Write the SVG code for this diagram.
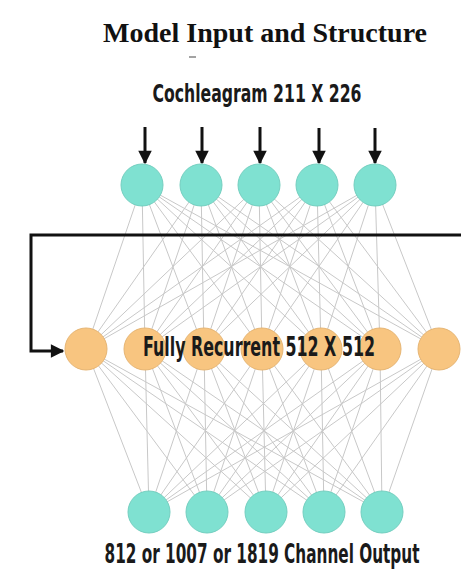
<svg xmlns="http://www.w3.org/2000/svg" width="461" height="573" viewBox="0 0 461 573">
  <style>
    .title { font-family: "Liberation Serif", "Times New Roman", serif; font-weight: bold; font-size: 27px; fill: #111; }
    .label { font-family: "DejaVu Sans Condensed", "DejaVu Sans", "Liberation Sans", sans-serif; font-stretch: condensed; font-weight: bold; font-size: 24px; fill: #1a1a1a; }
    .big { font-size: 26px; }
    .edge { stroke: #c8c8c8; stroke-width: 1; }
    .io { fill: #7fe1d1; stroke: #74cfc0; stroke-width: 1; }
    .hid { fill: #f8c580; stroke: #e6b573; stroke-width: 1; }
    .arrow { stroke: #111; stroke-width: 3; fill: none; }
  </style>
  <defs>
    <marker id="head" viewBox="0 0 10 10" refX="9" refY="5" markerWidth="5" markerHeight="4.5" orient="auto" markerUnits="strokeWidth">
      <path d="M0,0 L10,5 L0,10 Z" fill="#111"/>
    </marker>
  </defs>
  <rect width="461" height="573" fill="#fff"/>

  <text class="title" x="265" y="42" text-anchor="middle" textLength="324" lengthAdjust="spacingAndGlyphs">Model Input and Structure</text>
  <rect x="189" y="56" width="7" height="2" fill="#666" opacity="0.6"/>

  <text id="input-label" class="label" x="257" y="102" text-anchor="middle" textLength="209" lengthAdjust="spacingAndGlyphs">Cochleagram  211 X 226</text>

  <!-- weighted connections between layers -->
  <g id="connectors">
    <g class="edge">
      <!-- input -> hidden -->
      <path d="M142,185 L86,349 M142,185 L145,349 M142,185 L204,349 M142,185 L262,349 M142,185 L321,349 M142,185 L380,349 M142,185 L439,349"/>
      <path d="M201,185 L86,349 M201,185 L145,349 M201,185 L204,349 M201,185 L262,349 M201,185 L321,349 M201,185 L380,349 M201,185 L439,349"/>
      <path d="M259,185 L86,349 M259,185 L145,349 M259,185 L204,349 M259,185 L262,349 M259,185 L321,349 M259,185 L380,349 M259,185 L439,349"/>
      <path d="M317,185 L86,349 M317,185 L145,349 M317,185 L204,349 M317,185 L262,349 M317,185 L321,349 M317,185 L380,349 M317,185 L439,349"/>
      <path d="M375,185 L86,349 M375,185 L145,349 M375,185 L204,349 M375,185 L262,349 M375,185 L321,349 M375,185 L380,349 M375,185 L439,349"/>
      <!-- hidden -> output -->
      <path d="M86,349 L149,512 M86,349 L207,512 M86,349 L266,512 M86,349 L324,512 M86,349 L382,512"/>
      <path d="M145,349 L149,512 M145,349 L207,512 M145,349 L266,512 M145,349 L324,512 M145,349 L382,512"/>
      <path d="M204,349 L149,512 M204,349 L207,512 M204,349 L266,512 M204,349 L324,512 M204,349 L382,512"/>
      <path d="M262,349 L149,512 M262,349 L207,512 M262,349 L266,512 M262,349 L324,512 M262,349 L382,512"/>
      <path d="M321,349 L149,512 M321,349 L207,512 M321,349 L266,512 M321,349 L324,512 M321,349 L382,512"/>
      <path d="M380,349 L149,512 M380,349 L207,512 M380,349 L266,512 M380,349 L324,512 M380,349 L382,512"/>
      <path d="M439,349 L149,512 M439,349 L207,512 M439,349 L266,512 M439,349 L324,512 M439,349 L382,512"/>
    </g>
    <!-- input arrows -->
    <g class="arrow" marker-end="url(#head)">
      <line x1="145" y1="127" x2="145" y2="163"/>
      <line x1="202" y1="127" x2="202" y2="163"/>
      <line x1="260" y1="127" x2="260" y2="163"/>
      <line x1="319" y1="128" x2="319" y2="163"/>
      <line x1="375" y1="128" x2="375" y2="163"/>
    </g>
    <!-- recurrent feedback loop -->
    <path class="arrow" d="M461,235 L31,235 L31,351 L63,351" marker-end="url(#head)"/>
  </g>

  <g id="input-layer">
    <circle id="in1" class="io" cx="142" cy="185" r="21"/>
    <circle id="in2" class="io" cx="201" cy="185" r="21"/>
    <circle id="in3" class="io" cx="259" cy="185" r="21"/>
    <circle id="in4" class="io" cx="317" cy="185" r="21"/>
    <circle id="in5" class="io" cx="375" cy="185" r="21"/>
  </g>

  <g id="hidden-layer">
    <circle id="h1" class="hid" cx="86" cy="349" r="21"/>
    <circle id="h2" class="hid" cx="145" cy="349" r="21"/>
    <circle id="h3" class="hid" cx="204" cy="349" r="21"/>
    <circle id="h4" class="hid" cx="262" cy="349" r="21"/>
    <circle id="h5" class="hid" cx="321" cy="349" r="21"/>
    <circle id="h6" class="hid" cx="380" cy="349" r="21"/>
    <circle id="h7" class="hid" cx="439" cy="349" r="21"/>
    <text id="hidden-label" class="label big" x="259" y="356" text-anchor="middle" textLength="232" lengthAdjust="spacingAndGlyphs">Fully  Recurrent  512 X 512</text>
  </g>

  <g id="output-layer">
    <circle id="o1" class="io" cx="149" cy="512" r="21"/>
    <circle id="o2" class="io" cx="207" cy="512" r="21"/>
    <circle id="o3" class="io" cx="266" cy="512" r="21"/>
    <circle id="o4" class="io" cx="324" cy="512" r="21"/>
    <circle id="o5" class="io" cx="382" cy="512" r="21"/>
  </g>

  <text id="output-label" class="label big" x="262" y="563" text-anchor="middle" textLength="315" lengthAdjust="spacingAndGlyphs">812 or 1007 or 1819 Channel Output</text>
</svg>
